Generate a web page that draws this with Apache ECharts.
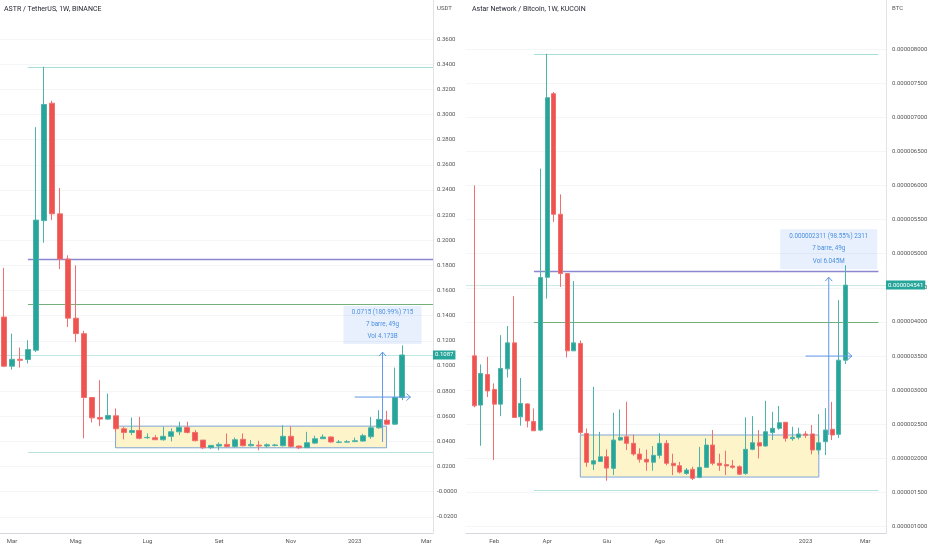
<!DOCTYPE html>
<html><head><meta charset="utf-8">
<script src="https://cdn.jsdelivr.net/npm/echarts@6.0.0/dist/echarts.min.js"></script>
<style>html,body{margin:0;padding:0;background:#fff}#c{width:932px;height:550px}</style>
</head><body><div id="c"></div>
<script>
// ---------- LEFT: ASTR / TetherUS, 1W, BINANCE  (weekly candles: [open, close, low, high]) ----------
const leftCandles = [
  [0.1389,0.0998,0.0990,0.1780],[0.0998,0.1053,0.0971,0.1257],[0.1053,0.1045,0.0987,0.1146],[0.1051,0.1130,0.1020,0.1204],
  [0.1125,0.2160,0.1110,0.2900],[0.2156,0.3080,0.1980,0.3380],[0.3090,0.2210,0.2160,0.3110],[0.2210,0.1850,0.1770,0.2416],
  [0.1850,0.1380,0.1310,0.1880],[0.1380,0.1257,0.1190,0.1800],[0.1257,0.0749,0.0424,0.1280],[0.0749,0.0587,0.0550,0.0752],
  [0.0590,0.0577,0.0521,0.0886],[0.0577,0.0606,0.0570,0.0780],[0.0603,0.0500,0.0476,0.0662],[0.0500,0.0471,0.0416,0.0516],
  [0.0471,0.0486,0.0450,0.0590],[0.0487,0.0424,0.0416,0.0595],[0.0429,0.0432,0.0420,0.0463],[0.0429,0.0413,0.0410,0.0450],
  [0.0413,0.0440,0.0405,0.0516],[0.0440,0.0476,0.0400,0.0503],[0.0476,0.0511,0.0450,0.0556],[0.0511,0.0471,0.0463,0.0556],
  [0.0471,0.0405,0.0400,0.0490],[0.0410,0.0349,0.0340,0.0410],[0.0350,0.0368,0.0340,0.0370],[0.0363,0.0376,0.0330,0.0392],
  [0.0376,0.0360,0.0350,0.0463],[0.0360,0.0413,0.0350,0.0430],[0.0416,0.0365,0.0360,0.0463],[0.0365,0.0376,0.0360,0.0410],
  [0.0370,0.0363,0.0330,0.0405],[0.0363,0.0373,0.0350,0.0384],[0.0368,0.0371,0.0360,0.0380],[0.0365,0.0440,0.0360,0.0529],
  [0.0440,0.0360,0.0350,0.0520],[0.0363,0.0349,0.0340,0.0365],[0.0350,0.0389,0.0350,0.0476],[0.0386,0.0421,0.0380,0.0445],
  [0.0421,0.0434,0.0420,0.0455],[0.0435,0.0395,0.0390,0.0440],[0.0392,0.0395,0.0385,0.0410],[0.0394,0.0397,0.0390,0.0410],
  [0.0398,0.0405,0.0394,0.0430],[0.0402,0.0445,0.0400,0.0460],[0.0437,0.0508,0.0420,0.0595],[0.0508,0.0575,0.0500,0.0648],
  [0.0569,0.0537,0.0530,0.0643],[0.0537,0.0749,0.0530,0.0987],[0.0749,0.1087,0.0728,0.1164]
];
const leftTicks = [-0.02,0,0.02,0.04,0.06,0.08,0.10,0.12,0.14,0.16,0.18,0.20,0.22,0.24,0.26,0.28,0.30,0.32,0.34,0.36];
const leftTickLabels = ['-0.0200','-0.0000','0.0200','0.0400','0.0600','0.0800','0.1000','0.1200','0.1400','0.1600',
  '0.1800','0.2000','0.2200','0.2400','0.2600','0.2800','0.3000','0.3200','0.3400','0.3600'];
const leftMonthIdx = [1,9,18,27,36,44,53];
const leftMonthLabels = ['Mar','Mag','Lug','Set','Nov','2023','Mar'];
const leftLevelPrices = [0.338, 0.185, 0.1487, 0.0317];
const leftLastPrice = 0.1087, leftLastLabel = '0.1087';
const leftRange = {x0: 14, x1: 48, y0: 0.0349, y1: 0.0521};
const leftMeasure = {start: 44, end: 51, from: 0.0395, to: 0.1110};
const leftMeasureText = ['0.0715 (180.99%) 715', '7 barre, 49g', 'Vol 4.173B'];

// ---------- RIGHT: Astar Network / Bitcoin, 1W, KUCOIN (values in satoshi, 1e-8 BTC) ----------
const rightCandles = [
  [350.4,277.2,275,600],[278.2,324.6,218.6,337.8],[323.1,299,290,348.9],[301.2,279.6,197.7,310],
  [279.6,331.9,262,380.7],[331.3,369.4,318.7,394],[369.4,260,260,437.8],[261,280.7,248,318],
  [280,255,245.5,281],[254.3,240.6,240.6,273.3],[241.6,465.1,240,624.7],[465.5,728.7,434.4,793],
  [734.5,557.8,546.6,737],[557.8,471,451.4,587],[471,357.7,348,471],[357.7,369.4,357.7,460],
  [368.5,238.2,235,373],[236.7,194.3,187.8,244],[191.8,196.7,183,305],[195.7,202.5,195,239],
  [202.5,185.9,167.4,213.3],[185.5,227,175.7,267],[227,230.9,226,271.9],[231.9,222.2,212.4,283.2],
  [222.2,206.5,204,235],[206.5,198.8,194,214.9],[198.8,194.8,182,213],[194.5,204.6,182,218.3],
  [204.6,222.2,200,236.9],[222.2,192.9,190,227],[192.9,189.4,175.7,207],[189.4,180,178,195],
  [178,183,176,186],[184.1,170.9,168.4,188],[172.4,187,171,217],[187,219.7,186,229.5],
  [219.7,192.9,190,241.7],[192.9,190,182,207],[191,189,175.7,211.4],[189,187,185,197.7],
  [188,177,176,190],[178,213.4,176,260.3],[213.4,223.1,212,262],[223.1,218.3,200,241.7],
  [218.3,239.2,217,284.6],[238,244.2,227,268.5],[244.2,252.4,242,277],[253,229.5,224.6,253.5],
  [229,231,226,246.5],[231,235.8,228,245],[235.8,234,230,240],[236,212.4,206,249],
  [212.4,223,206,265],[224.6,241.7,205,273.5],[242.7,234.4,227,283],[235.4,344,230,432],
  [344,454.1,338.4,483]
];
const rightTicks = [100,150,200,250,300,350,400,450,500,550,600,650,700,750,800];
const rightTickLabels = ['0.000001000','0.000001500','0.000002000','0.000002500','0.000003000','0.000003500',
  '0.000004000','0.000004500','0.000005000','0.000005500','0.000006000','0.000006500','0.000007000',
  '0.000007500','0.000008000'];
const rightMonthIdx = [3,11,20,28,37,50,59];
const rightMonthLabels = ['Feb','Apr','Giu','Ago','Ott','2023','Mar'];
const rightLevelPrices = [793, 474.7, 399, 153.3];
const rightLastPrice = 454.1, rightLastLabel = '0.000004541';
const rightRange = {x0: 16, x1: 52, y0: 172.8, y1: 234.4};
const rightMeasure = {start: 50, end: 57, from: 234.5, to: 465.6};
const rightMeasureText = ['0.000002311 (98.55%) 2311', '7 barre, 49g', 'Vol 6.045M'];

// ---------- styling / layout ----------
const FONT = 'Roboto';
const UP = '#26a69a', DOWN = '#ef5350';
const levelColors = ['#a6ddd6', '#8d87d2', '#74b07c', '#b6e3de'];
const levelWidths = [1, 1.4, 1, 1];

function lookup(vals, labels) {
  return function (v) {
    for (let i = 0; i < vals.length; i++) if (Math.abs(vals[i] - v) < 1e-7) return labels[i];
    return '';
  };
}
function xAxisCfg(grid, min, max, idx, labels) {
  return {
    type: 'value', gridIndex: grid, min: min, max: max,
    axisLine: {show: true, onZero: false, lineStyle: {color: '#d6d8de', width: 1}},
    axisTick: {show: false, customValues: idx},
    splitLine: {show: false},
    axisLabel: {customValues: idx, formatter: lookup(idx, labels), fontSize: 6, color: '#555', margin: 5, fontFamily: FONT}
  };
}
function yAxisCfg(grid, min, max, ticks, labels, margin) {
  return {
    type: 'value', gridIndex: grid, position: 'right', min: min, max: max, scale: true,
    axisLine: {show: true, onZero: false, lineStyle: {color: '#e0e2e8'}},
    axisTick: {show: false, customValues: ticks},
    splitLine: {show: true, lineStyle: {color: '#f4f5f7', width: 1}},
    axisLabel: {customValues: ticks, formatter: lookup(ticks, labels), fontSize: 6, color: '#555', margin: margin,
      fontFamily: FONT, align: 'left'}
  };
}
function levelLines(prices, from, to) {
  return prices.map((p, i) => [
    {coord: [from, p], lineStyle: {color: levelColors[i], width: levelWidths[i], type: 'solid'}},
    {coord: [to, p]}
  ]);
}
function candleSeries(grid, candles, bw, prices, from, to, xmin, xmax, last, lastLabel, lastColor, range) {
  const lines = levelLines(prices, from, to);
  lines.push([
    {coord: [xmin, last], lineStyle: {color: lastColor, width: 1, type: 'solid'},
      label: {show: true, position: 'end', distance: 0, formatter: lastLabel, color: '#fff', backgroundColor: UP,
        fontSize: 6, fontFamily: FONT, padding: [1, 2, 1, 2], lineHeight: 7}},
    {coord: [xmax, last]}
  ]);
  return {
    type: 'candlestick', xAxisIndex: grid, yAxisIndex: grid, clip: false, barWidth: bw, z: 3,
    data: candles.map((c, i) => [i, c[0], c[1], c[2], c[3]]),
    itemStyle: {color: UP, color0: DOWN, borderColor: '#4db3a8', borderColor0: '#f1706e', borderWidth: 1},
    markLine: {silent: true, symbol: 'none', label: {show: false}, data: lines, z: 2},
    markArea: {silent: true, z: 1,
      itemStyle: {color: '#fdf5c9', borderColor: '#7fa5d6', borderWidth: 1},
      data: [[{coord: [range.x0, range.y1]}, {coord: [range.x1, range.y0]}]]}
  };
}
function measureSeries(grid, m, texts, boxW, boxH) {
  return {
    type: 'custom', xAxisIndex: grid, yAxisIndex: grid, clip: false, silent: true, z: 6,
    data: [[m.start, m.from]],
    renderItem: function (params, api) {
      const xm = (m.start + m.end) / 2, ym = (m.from + m.to) / 2;
      const top = api.coord([xm, m.to]), bot = api.coord([xm, m.from]);
      const hs = api.coord([m.start, ym]), he = api.coord([m.end, ym]);
      const c = '#5f97e6';
      const bx = top[0] - boxW / 2, by = top[1] - 8 - boxH;
      const kids = [
        {type: 'rect', shape: {x: bx, y: by, width: boxW, height: boxH}, style: {fill: 'rgba(66,133,244,0.12)'}},
        {type: 'line', shape: {x1: top[0], y1: top[1], x2: bot[0], y2: bot[1]}, style: {stroke: c, lineWidth: 1}},
        {type: 'polyline', shape: {points: [[top[0] - 3.5, top[1] + 4], [top[0], top[1]], [top[0] + 3.5, top[1] + 4]]},
          style: {stroke: c, fill: 'none', lineWidth: 1}},
        {type: 'line', shape: {x1: hs[0], y1: hs[1], x2: he[0], y2: he[1]}, style: {stroke: c, lineWidth: 1}},
        {type: 'polyline', shape: {points: [[he[0] - 4, he[1] - 3.5], [he[0], he[1]], [he[0] - 4, he[1] + 3.5]]},
          style: {stroke: c, fill: 'none', lineWidth: 1}}
      ];
      texts.forEach((t, i) => kids.push({type: 'text', style: {text: t, x: top[0], y: by + boxH * (0.17 + 0.32 * i),
        fill: '#4a8fe0', fontSize: 6.3, fontFamily: FONT, align: 'center', verticalAlign: 'middle'}}));
      return {type: 'group', children: kids};
    }
  };
}

const LX = [-0.502, 53.83], RX = [-1.253, 62.14];
const LY = [-0.0329, 0.3911], RY = [90.8, 871.8];

const chart = echarts.init(document.getElementById('c'));
chart.setOption({
  animation: false,
  backgroundColor: '#fff',
  grid: [
    {left: 0, top: 0, width: 433, height: 533},
    {left: 466, top: 0, width: 420, height: 533}
  ],
  xAxis: [
    xAxisCfg(0, LX[0], LX[1], leftMonthIdx, leftMonthLabels),
    xAxisCfg(1, RX[0], RX[1], rightMonthIdx, rightMonthLabels)
  ],
  yAxis: [
    yAxisCfg(0, LY[0], LY[1], leftTicks, leftTickLabels, 4),
    yAxisCfg(1, RY[0], RY[1], rightTicks, rightTickLabels, 6)
  ],
  series: [
    candleSeries(0, leftCandles, 5.5, leftLevelPrices, 3, LX[1], LX[0], LX[1], leftLastPrice, leftLastLabel, '#bfe5e0', leftRange),
    candleSeries(1, rightCandles, 4.6, rightLevelPrices, 9, 61, RX[0], RX[1], rightLastPrice, rightLastLabel, '#cde9e6', rightRange),
    measureSeries(0, leftMeasure, leftMeasureText, 78, 38),
    measureSeries(1, rightMeasure, rightMeasureText, 97, 40)
  ],
  graphic: [
    {type: 'text', left: 4, top: 6, style: {text: 'ASTR / TetherUS, 1W, BINANCE', fontSize: 7, fontFamily: FONT, fill: '#1e222d'}},
    {type: 'text', left: 437, top: 5, style: {text: 'USDT', fontSize: 6, fontFamily: FONT, fill: '#555'}},
    {type: 'text', left: 472, top: 6, style: {text: 'Astar Network / Bitcoin, 1W, KUCOIN', fontSize: 7, fontFamily: FONT, fill: '#1e222d'}},
    {type: 'text', left: 892, top: 5, style: {text: 'BTC', fontSize: 6, fontFamily: FONT, fill: '#555'}}
  ]
});
</script></body></html>
